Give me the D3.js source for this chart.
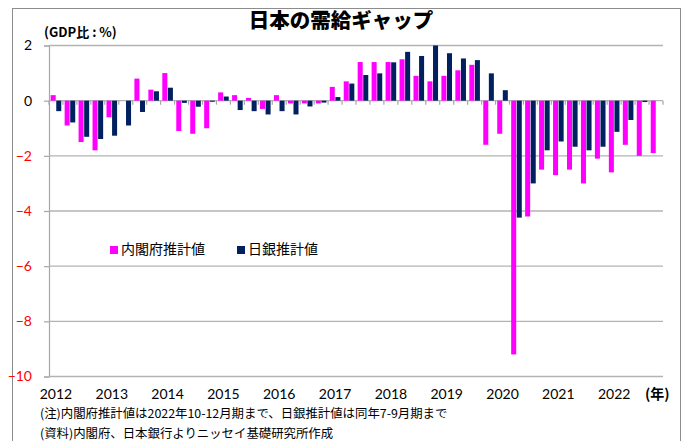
<!DOCTYPE html>
<html><head><meta charset="utf-8">
<script src="https://cdn.jsdelivr.net/npm/d3@7"></script>
<style>
html,body{margin:0;padding:0;background:#fff;}
svg{display:block;}
</style></head>
<body>
<svg id="chart" width="688" height="441"></svg>
<script>
// Quarters 2012Q1 .. 2022Q4
const years = [2012,2013,2014,2015,2016,2017,2018,2019,2020,2021,2022];
const quarters = [];
years.forEach(yr => [1,2,3,4].forEach(q => quarters.push(yr + "Q" + q)));

const seriesNames = ["内閣府推計値", "日銀推計値"];
const seriesColors = ["#ff00ff", "#002060"];

// 内閣府推計値 (Cabinet Office)
const cabinet = [
  0.2, -0.9, -1.5, -1.8,
  -0.6, 0.0, 0.8, 0.4,
  1.0, -1.1, -1.2, -1.0,
  0.3, 0.2, 0.1, -0.3,
  0.2, -0.1, -0.1, -0.1,
  0.5, 0.7, 1.4, 1.4,
  1.4, 1.5, 0.9, 0.7,
  0.9, 1.1, 1.3, -1.6,
  -1.2, -9.2, -4.2, -2.5,
  -2.7, -2.5, -3.0, -2.1,
  -2.6, -1.6, -2.0, -1.9
];
// 日銀推計値 (Bank of Japan)
const boj = [
  -0.38, -0.79, -1.31, -1.39,
  -1.27, -0.9, -0.41, 0.34,
  0.47, -0.08, -0.22, -0.04,
  0.15, -0.34, -0.38, -0.5,
  -0.38, -0.5, -0.21, -0.07,
  0.13, 0.62, 0.93, 0.99,
  1.39, 1.77, 1.62, 2.0,
  1.72, 1.53, 1.47, 0.99,
  0.38, -4.24, -3.0, -1.8,
  -1.48, -1.67, -1.8, -1.67,
  -1.13, -0.7, -0.05, null
];

const yTicks = [2, 0, -2, -4, -6, -8, -10];

const svg = d3.select("#chart");
const plotLeft = 49, plotRight = 663, plotTop = 45.5, plotBottom = 376.5;

const x0 = d3.scaleBand().domain(quarters).range([plotLeft, plotRight]).paddingInner(0).paddingOuter(0);
const x1 = d3.scaleBand().domain([0,1]).range([0, x0.bandwidth()]).paddingInner(0.1).paddingOuter(0.3);
const y = d3.scaleLinear().domain([-10, 2]).range([plotBottom, plotTop]);

// frame
svg.append("rect").attr("x", 12.5).attr("y", 8.5).attr("width", 668).attr("height", 450)
  .attr("fill", "none").attr("stroke", "#8c8c8c").attr("stroke-width", 1);

// y axis
const yAxis = d3.axisLeft(y).tickValues(yTicks).tickSize(5).tickFormat(d3.format("d"));
const gy = svg.append("g").attr("transform", `translate(${plotLeft},0)`).call(yAxis);
gy.select(".domain").attr("stroke", "#a6a6a6").attr("stroke-width", 1.2);
gy.selectAll(".tick line").attr("stroke", "#a6a6a6").attr("stroke-width", 1.2);
gy.selectAll(".tick text")
  .attr("x", -17)
  .attr("font-family", "Lato, 'Open Sans', sans-serif")
  .attr("font-size", 14)
  .attr("fill", d => d < 0 ? "#ff0000" : "#000");

// gridlines
svg.append("g").selectAll("line").data(yTicks).join("line")
  .attr("x1", plotLeft).attr("x2", plotRight)
  .attr("y1", d => y(d)).attr("y2", d => y(d))
  .attr("stroke", "#b3b3b3").attr("stroke-width", 1.4);

// bars
const groups = svg.append("g").selectAll("g").data(quarters).join("g")
  .attr("transform", d => `translate(${x0(d)},0)`);
groups.selectAll("rect")
  .data((d, i) => [cabinet[i], boj[i]].map((v, s) => ({v, s})).filter(o => o.v !== null))
  .join("rect")
  .attr("x", d => x1(d.s))
  .attr("width", x1.bandwidth())
  .attr("y", d => y(Math.max(0, d.v)))
  .attr("height", d => Math.abs(y(d.v) - y(0)))
  .attr("fill", d => seriesColors[d.s]);

// x ticks on zero line at quarter boundaries
const bounds = quarters.map(q => x0(q)).concat([plotRight]);
svg.append("g").selectAll("line").data(bounds).join("line")
  .attr("x1", d => d).attr("x2", d => d)
  .attr("y1", y(0)).attr("y2", y(0) + 4)
  .attr("stroke", "#a6a6a6").attr("stroke-width", 1.2);

// year labels
svg.append("g").selectAll("text").data(years).join("text")
  .attr("x", d => x0(d + "Q1") + x0.bandwidth() / 2)
  .attr("y", 395)
  .attr("text-anchor", "middle")
  .attr("dominant-baseline", "middle")
  .attr("font-family", "Lato, 'Open Sans', sans-serif")
  .attr("font-size", 14)
  .attr("fill", "#000")
  .text(d => d);

const jp = "'Noto Sans CJK JP', sans-serif";
svg.append("text").attr("x", 645).attr("y", 395).attr("dominant-baseline", "middle")
  .attr("font-family", jp).attr("font-size", 14).attr("font-weight", "bold").text("(年)");

// title
svg.append("text").attr("x", 341).attr("y", 22).attr("text-anchor", "middle")
  .attr("dominant-baseline", "middle")
  .attr("font-family", jp).attr("font-size", 20.5).attr("font-weight", "900")
  .text("日本の需給ギャップ");

svg.append("text").attr("x", 44).attr("y", 33).attr("dominant-baseline", "middle")
  .attr("font-family", jp).attr("font-size", 13).attr("font-weight", "bold")
  .text("(GDP比 : %)");

// legend
const legendX = [110, 237];
const lg = svg.append("g").selectAll("g").data(seriesNames).join("g")
  .attr("transform", (d, i) => `translate(${legendX[i]},250)`);
lg.append("rect").attr("x", 0).attr("y", -4).attr("width", 8).attr("height", 8)
  .attr("fill", (d, i) => seriesColors[i]);
lg.append("text").attr("x", 11).attr("y", 0).attr("dominant-baseline", "middle")
  .attr("font-family", jp).attr("font-size", 14).attr("fill", "#000").text(d => d);

// notes
const notes = ["(注)内閣府推計値は2022年10-12月期まで、日銀推計値は同年7-9月期まで",
               "(資料)内閣府、日本銀行よりニッセイ基礎研究所作成"];
svg.append("g").selectAll("text").data(notes).join("text")
  .attr("x", 40).attr("y", (d, i) => 415 + i * 20)
  .attr("dominant-baseline", "middle")
  .attr("font-family", jp).attr("font-size", 12.4).attr("fill", "#000").text(d => d);
</script>
</body></html>
